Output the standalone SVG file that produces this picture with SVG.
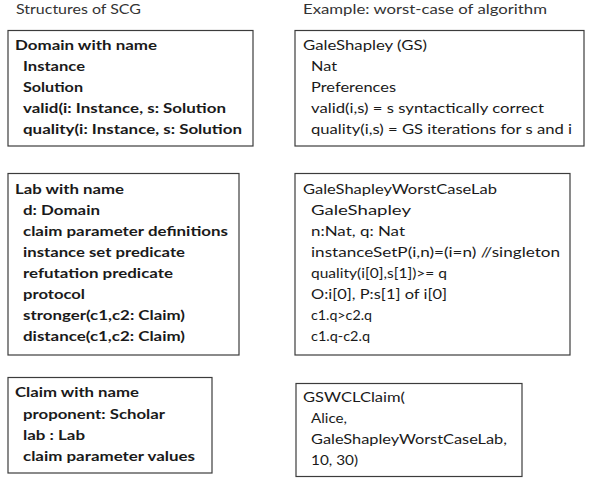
<svg xmlns="http://www.w3.org/2000/svg" width="597" height="478" viewBox="0 0 597 478">
  <style>
    text { font-family: Lato, "Open Sans", "Liberation Sans", sans-serif; font-size: 14px; fill: #1a1a1a; }
    .b { font-weight: bold; }
    .head { fill: #333; }
    .box { fill: #fff; stroke: #3c3c3c; stroke-width: 1.2; }
  </style>
  <rect width="597" height="478" fill="#fff"/>

  <!-- column headings -->
  <text class="head" x="16" y="14" textLength="125" lengthAdjust="spacingAndGlyphs">Structures of SCG</text>
  <text class="head" x="303" y="14" textLength="244" lengthAdjust="spacingAndGlyphs">Example: worst-case of algorithm</text>

  <!-- Domain structure -->
  <g id="domain">
    <rect class="box" x="8" y="30.5" width="245" height="115.5"/>
    <text class="b" x="15" y="50" textLength="142" lengthAdjust="spacingAndGlyphs">Domain with name</text>
    <text class="b" x="23" y="71" textLength="62" lengthAdjust="spacingAndGlyphs">Instance</text>
    <text class="b" x="23" y="92" textLength="60" lengthAdjust="spacingAndGlyphs">Solution</text>
    <text class="b" x="23" y="113" textLength="203" lengthAdjust="spacingAndGlyphs">valid(i: Instance, s: Solution</text>
    <text class="b" x="23" y="134" textLength="219" lengthAdjust="spacingAndGlyphs">quality(i: Instance, s: Solution</text>
  </g>

  <!-- Domain example -->
  <g id="domain-example">
    <rect class="box" x="295" y="30.5" width="289" height="115.5"/>
    <text x="303" y="50" textLength="124" lengthAdjust="spacingAndGlyphs">GaleShapley (GS)</text>
    <text x="311" y="71" textLength="26" lengthAdjust="spacingAndGlyphs">Nat</text>
    <text x="311" y="92" textLength="85" lengthAdjust="spacingAndGlyphs">Preferences</text>
    <text x="311" y="113" textLength="233" lengthAdjust="spacingAndGlyphs">valid(i,s) = s syntactically correct</text>
    <text x="311" y="134" textLength="261" lengthAdjust="spacingAndGlyphs">quality(i,s) = GS iterations for s and i</text>
  </g>

  <!-- Lab structure -->
  <g id="lab">
    <rect class="box" x="8" y="173.5" width="231" height="181.5"/>
    <text class="b" x="15" y="194" textLength="109" lengthAdjust="spacingAndGlyphs">Lab with name</text>
    <text class="b" x="23" y="215" textLength="77" lengthAdjust="spacingAndGlyphs">d: Domain</text>
    <text class="b" x="23" y="236" textLength="205" lengthAdjust="spacingAndGlyphs">claim parameter definitions</text>
    <text class="b" x="23" y="257" textLength="162" lengthAdjust="spacingAndGlyphs">instance set predicate</text>
    <text class="b" x="23" y="278" textLength="150" lengthAdjust="spacingAndGlyphs">refutation predicate</text>
    <text class="b" x="23" y="299" textLength="62" lengthAdjust="spacingAndGlyphs">protocol</text>
    <text class="b" x="23" y="320" textLength="162" lengthAdjust="spacingAndGlyphs">stronger(c1,c2: Claim)</text>
    <text class="b" x="23" y="341" textLength="162" lengthAdjust="spacingAndGlyphs">distance(c1,c2: Claim)</text>
  </g>

  <!-- Lab example -->
  <g id="lab-example">
    <rect class="box" x="295" y="173.5" width="275" height="181.5"/>
    <text x="303" y="194" textLength="194" lengthAdjust="spacingAndGlyphs">GaleShapleyWorstCaseLab</text>
    <text x="311" y="215" textLength="100" lengthAdjust="spacingAndGlyphs">GaleShapley</text>
    <text x="311" y="236" textLength="94" lengthAdjust="spacingAndGlyphs">n:Nat, q: Nat</text>
    <text x="311" y="257" textLength="249" lengthAdjust="spacingAndGlyphs">instanceSetP(i,n)=(i=n) //singleton</text>
    <text x="311" y="278" textLength="136" lengthAdjust="spacingAndGlyphs">quality(i[0],s[1])&gt;= q</text>
    <text x="311" y="299" textLength="136" lengthAdjust="spacingAndGlyphs">O:i[0], P:s[1] of i[0]</text>
    <text x="311" y="320" textLength="61" lengthAdjust="spacingAndGlyphs">c1.q&gt;c2.q</text>
    <text x="311" y="341" textLength="59" lengthAdjust="spacingAndGlyphs">c1.q-c2.q</text>
  </g>

  <!-- Claim structure -->
  <g id="claim">
    <rect class="box" x="8" y="377.5" width="204" height="95.5"/>
    <text class="b" x="15" y="397" textLength="124" lengthAdjust="spacingAndGlyphs">Claim with name</text>
    <text class="b" x="23" y="418.5" textLength="142" lengthAdjust="spacingAndGlyphs">proponent: Scholar</text>
    <text class="b" x="23" y="439.5" textLength="62" lengthAdjust="spacingAndGlyphs">lab : Lab</text>
    <text class="b" x="23" y="460.5" textLength="172" lengthAdjust="spacingAndGlyphs">claim parameter values</text>
  </g>

  <!-- Claim example -->
  <g id="claim-example">
    <rect class="box" x="296" y="383.5" width="226" height="93"/>
    <text x="303" y="402" textLength="102" lengthAdjust="spacingAndGlyphs">GSWCLClaim(</text>
    <text x="311" y="423" textLength="36" lengthAdjust="spacingAndGlyphs">Alice,</text>
    <text x="311" y="444" textLength="196" lengthAdjust="spacingAndGlyphs">GaleShapleyWorstCaseLab,</text>
    <text x="311" y="465" textLength="47" lengthAdjust="spacingAndGlyphs">10, 30)</text>
  </g>
</svg>
